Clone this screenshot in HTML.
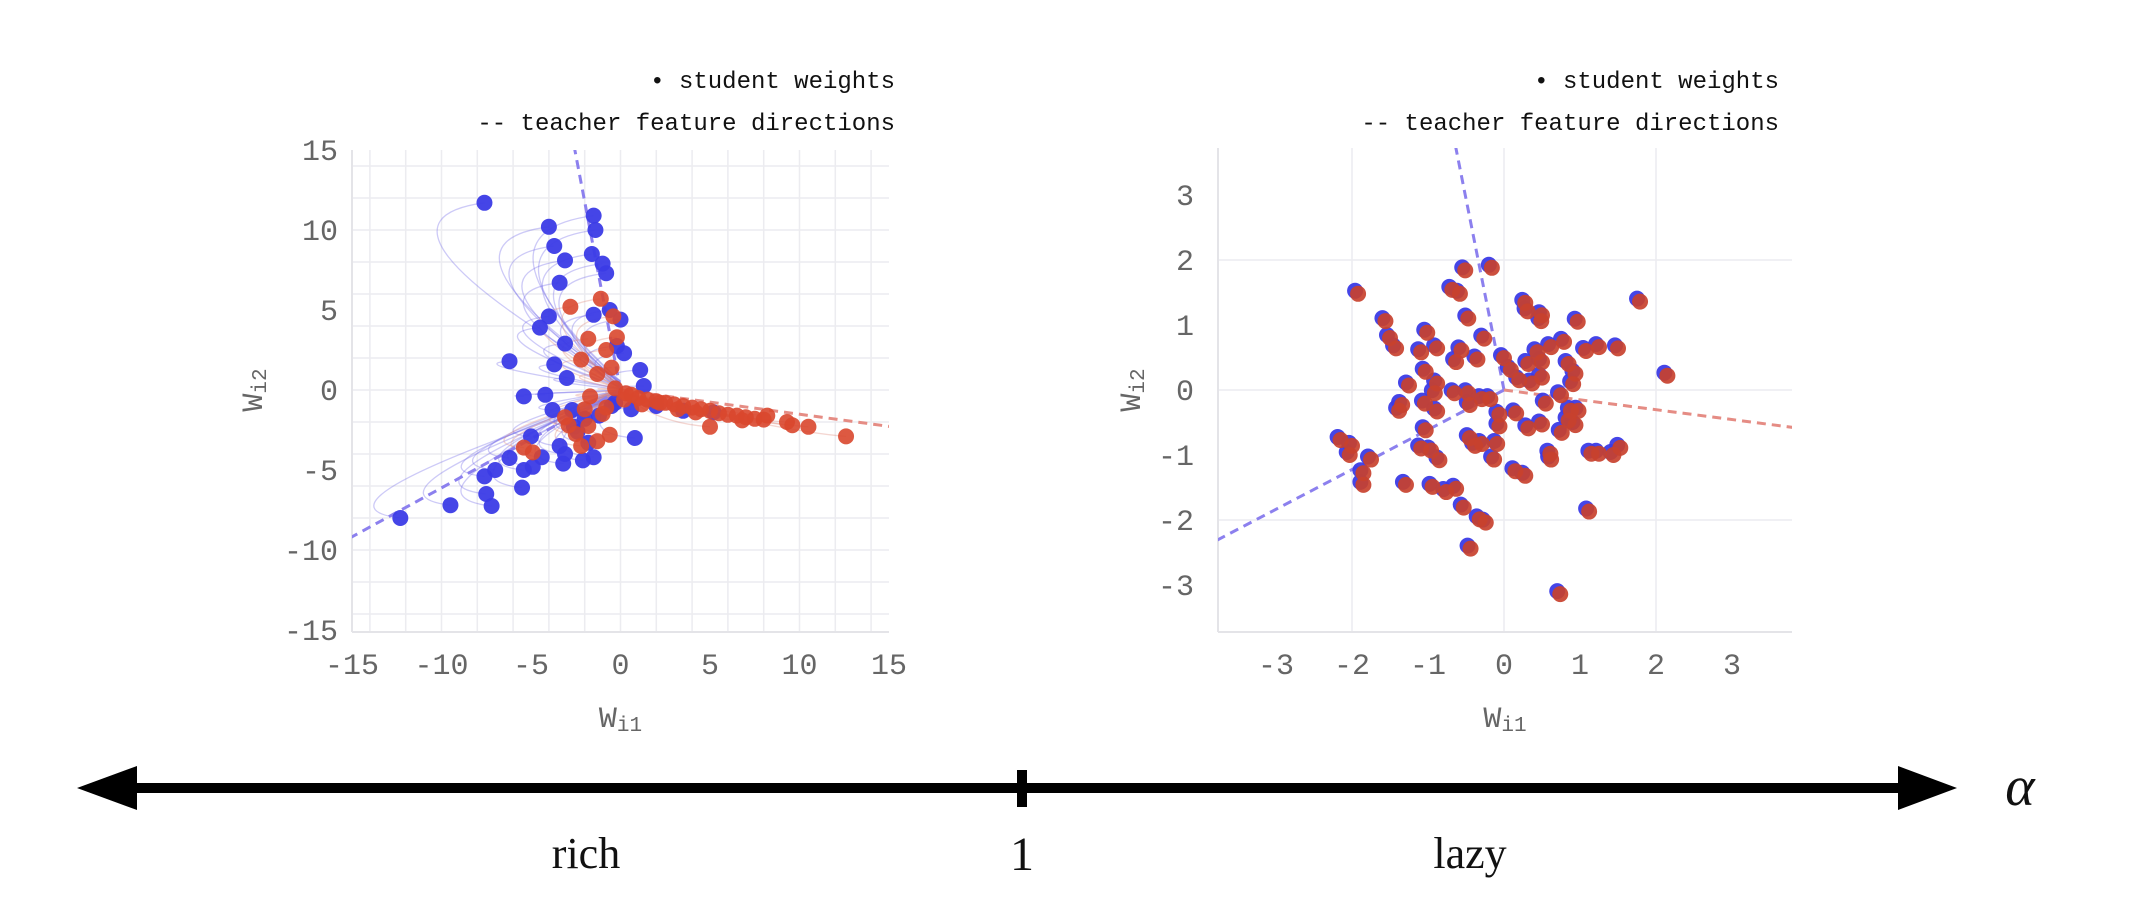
<!DOCTYPE html>
<html><head><meta charset="utf-8">
<style>
html,body{margin:0;padding:0;background:#fff;}
svg{display:block;}
.tick{font-family:"Liberation Mono","DejaVu Sans Mono",monospace;font-size:30px;fill:#666;}
.leg{font-family:"Liberation Mono","DejaVu Sans Mono",monospace;font-size:24px;fill:#111;}
.ser{font-family:"Liberation Serif",serif;fill:#111;}
</style></head>
<body>
<svg id="fig" width="2148" height="922" viewBox="0 0 2148 922" xmlns="http://www.w3.org/2000/svg">
  <g id="rich"></g>
  <g id="lazy"></g>
  <g>
    <rect x="130" y="783" width="1775" height="10" fill="#000"/>
    <polygon points="77,788 137,766 137,810" fill="#000"/>
    <polygon points="1957,788 1898,766 1898,810" fill="#000"/>
    <rect x="1017" y="770" width="10" height="37" fill="#000"/>
    <text class="ser" x="2020" y="805" font-size="56" font-style="italic" text-anchor="middle">α</text>
    <text class="ser" x="586" y="868" font-size="44" text-anchor="middle">rich</text>
    <text class="ser" x="1022" y="870" font-size="48" text-anchor="middle">1</text>
    <text class="ser" x="1470" y="868" font-size="44" text-anchor="middle">lazy</text>
  </g>
</svg>
<script>
// ---- rich regime data (final student weights) ----
const richBlueX = [-7.6,-4.0,-3.7,-3.1,-3.4,-1.5,-1.4,-1.6,-1.0,-0.8,-0.6,-1.5,0.0,-0.2,0.2,-4.0,-4.5,-6.2,-3.1,-3.7,-3.0,1.1,1.3,-5.4,-4.2,-3.8,-2.7,-2.0,-1.2,-0.5,-5.0,-6.2,-5.4,-4.9,-3.2,-3.1,-2.1,-1.5,-7.6,-7.0,-7.5,-5.5,-9.5,-7.2,-12.3,0.8,-2.4,-3.4,-1.8,-0.3,0.6,2.0,3.5,5.2,-2.6,-4.4];
const richBlueY = [11.7,10.2,9.0,8.1,6.7,10.9,10.0,8.5,7.9,7.3,5.0,4.7,4.4,2.75,2.3,4.6,3.9,1.8,2.9,1.6,0.75,1.25,0.25,-0.4,-0.3,-1.25,-1.25,-1.8,-1.6,-1.0,-2.9,-4.25,-5.0,-4.8,-4.6,-4.0,-4.4,-4.2,-5.4,-5.0,-6.5,-6.1,-7.2,-7.25,-8.0,-3.0,-2.6,-3.5,-3.3,-0.8,-1.2,-1.0,-1.3,-1.4,-2.3,-4.2];
const richRedX = [-1.1,-0.4,-0.2,-2.8,-1.8,-2.2,-1.3,-0.5,-0.8,-1.7,-3.1,-2.5,-1.8,-1.0,-0.8,-4.9,-5.4,-2.2,-1.3,0.3,0.6,1.0,1.5,2.0,2.5,3.0,3.5,4.0,4.5,5.0,5.5,6.0,6.5,7.0,7.5,8.0,8.2,5.0,9.3,9.6,10.5,12.6,-0.3,0.2,1.2,2.2,3.2,4.2,6.8,-2.9,-2.0,-0.6];
const richRedY = [5.7,4.6,3.3,5.2,3.2,1.9,1.0,1.4,2.5,-0.4,-1.7,-2.75,-2.25,-1.5,-1.1,-3.9,-3.6,-3.5,-3.2,-0.2,-0.3,-0.5,-0.6,-0.7,-0.8,-0.9,-1.0,-1.1,-1.2,-1.3,-1.45,-1.55,-1.6,-1.7,-1.8,-1.85,-1.6,-2.3,-2.0,-2.2,-2.3,-2.9,0.1,-0.6,-0.9,-0.8,-1.2,-1.4,-1.9,-2.2,-1.2,-2.8];
const richTicks = [-15,-10,-5,0,5,10,15];
// teacher directions (unit vectors)
const teacherBlueA = [-0.17,1];
const teacherBlueB = [-0.85,-0.52];
const teacherRed = [0.99,-0.15];

// ---- lazy regime data ----
const lazyX = [-1.92,-1.56,-1.5,-1.42,-1.09,-1.01,-0.88,-0.68,-0.58,-0.51,-0.16,-0.47,-0.26,-0.63,-0.56,-0.35,-1.03,-0.88,-0.91,-1.25,-1.34,-1.38,-1.04,-0.88,-0.65,-0.47,-0.45,-0.29,-0.18,-1.03,-1.09,-0.96,-0.85,-0.45,-0.38,-0.29,-0.09,-0.13,-0.06,-0.06,-2.15,-2.0,-2.03,-1.75,-1.85,-1.85,-1.29,-0.94,-0.76,-0.63,-0.53,-0.32,-0.24,-0.44,0.0,0.09,0.28,0.31,0.5,0.49,0.32,0.44,0.5,0.37,0.5,0.62,0.79,0.97,1.08,1.25,1.5,0.94,0.91,1.79,2.15,0.16,0.55,0.32,0.5,0.76,0.75,0.88,0.98,0.94,0.85,0.61,0.62,1.15,1.25,1.44,1.53,0.15,0.28,1.12,0.74,0.85,0.2];
const lazyY = [1.48,1.06,0.8,0.64,0.58,0.88,0.64,1.54,1.48,1.84,1.88,1.1,0.79,0.43,0.61,0.47,0.28,0.1,-0.05,0.07,-0.23,-0.32,-0.21,-0.33,-0.05,-0.05,-0.23,-0.14,-0.14,-0.62,-0.9,-0.93,-1.08,-0.74,-0.86,-0.83,-0.83,-1.07,-0.38,-0.56,-0.77,-0.86,-1.0,-1.07,-1.28,-1.46,-1.46,-1.49,-1.57,-1.52,-1.81,-1.99,-2.04,-2.44,0.49,0.31,1.34,1.21,1.15,1.06,0.4,0.58,0.43,0.1,0.19,0.66,0.74,1.05,0.6,0.66,0.64,0.25,0.09,1.36,0.22,-0.36,-0.21,-0.59,-0.53,-0.66,-0.08,-0.32,-0.32,-0.54,-0.47,-0.98,-1.07,-0.98,-0.98,-1.0,-0.89,-1.25,-1.32,-1.87,-3.14,0.4,0.15];
const lazyTicks = [-3,-2,-1,0,1,2,3];

const NS = "http://www.w3.org/2000/svg";
function mk(parent, tag, attrs){
  const e = document.createElementNS(NS, tag);
  for (const k in attrs) e.setAttribute(k, attrs[k]);
  parent.appendChild(e);
  return e;
}
const BLUE = "#3b3be6", RED = "#d9472e";

function drawChart(g, cfg){
  const sx = v => cfg.x0 + v * cfg.kx;
  const sy = v => cfg.y0 - v * cfg.ky;
  for (let v = -cfg.gmax; v <= cfg.gmax; v += cfg.gstep){
    const gx = mk(g, "line", {x1:sx(v), x2:sx(v), y1:cfg.top, y2:cfg.bottom, stroke:"#ececf0", "stroke-width":1.5});
    
    
    const gy = mk(g, "line", {x1:cfg.left, x2:cfg.right, y1:sy(v), y2:sy(v), stroke:"#ececf0", "stroke-width":1.5});
    
    
  }
  const ax = mk(g, "line", {x1:cfg.left, x2:cfg.right, y1:cfg.bottom, y2:cfg.bottom, stroke:"#e4e4e8", "stroke-width":2});
  
  
  const ay = mk(g, "line", {x1:cfg.left, x2:cfg.left, y1:cfg.top, y2:cfg.bottom, stroke:"#e4e4e8", "stroke-width":2});
  
  
  cfg.ticks.forEach(t => {
    const tx = mk(g, "text", {x:sx(t), y:cfg.bottom + 42, "text-anchor":"middle", class:"tick"});
    tx.textContent = String(t);
    
    
    if (sy(t) >= cfg.top - 15 && sy(t) <= cfg.bottom + 15){
      const ty = mk(g, "text", {x:cfg.left - cfg.ypad, y:sy(t) + 10, "text-anchor":"end", class:"tick"});
      ty.textContent = String(t);
      
      
    }
  });
  const xt = mk(g, "text", {x:(cfg.left+cfg.right)/2, y:cfg.bottom + 95, "text-anchor":"middle", class:"tick"});
  xt.innerHTML = 'W<tspan font-size="21" dy="4">i1</tspan>';
  
  
  const yt = mk(g, "text", {x:0, y:0, "text-anchor":"middle", class:"tick", transform:`translate(${cfg.ytx},${cfg.y0}) rotate(-90)`});
  yt.innerHTML = 'W<tspan font-size="21" dy="4">i2</tspan>';
  
  
  const l1 = mk(g, "text", {x:cfg.legX, y:88, "text-anchor":"end", class:"leg"});
  l1.textContent = "• student weights";
  
  
  const l2 = mk(g, "text", {x:cfg.legX, y:130, "text-anchor":"end", class:"leg"});
  l2.textContent = "-- teacher feature directions";
  
  
  const cid = "clip" + cfg.id;
  const defs = mk(g, "defs", {});
  const cp = mk(defs, "clipPath", {id:cid});
  mk(cp, "rect", {x:cfg.left, y:cfg.top, width:cfg.right-cfg.left, height:cfg.bottom-cfg.top});
  const plot = mk(g, "g", {"clip-path":`url(#${cid})`});
  
  
  return {sx, sy, plot};
}

function teacherLines(plot, sx, sy, L){
  [[teacherBlueA,"#8c80ee"],[teacherBlueB,"#8c80ee"],[teacherRed,"#e58c84"]].forEach(([d,c])=>{
    const ln = mk(plot, "line", {x1:sx(0), y1:sy(0), x2:sx(d[0]*L), y2:sy(d[1]*L), stroke:c, "stroke-width":3, "stroke-dasharray":"9 6"});
    
    
  });
}

(function(){
  const g = document.getElementById("rich");
  const c = drawChart(g, {id:"r", x0:620.5, y0:390, kx:17.9, ky:16, left:352, right:889, top:150, bottom:632,
    gmax:14, gstep:2, ticks:richTicks, ypad:14, ytx:262, legX:895});
  const {sx, sy, plot} = c;
  function traj(x, y, col){
    const p = mk(plot, "path", {d:`M${sx(0)},${sy(y*0.05)} Q${sx(x-Math.abs(y)*0.5-2)},${sy(y*0.9)} ${sx(x)},${sy(y)}`,
      fill:"none", stroke:col, "stroke-width":1.3, opacity:0.35});
    
    
  }
  richBlueX.forEach((x,i)=>traj(x, richBlueY[i], "#6f66e8"));
  richRedX.forEach((x,i)=>traj(x, richRedY[i], "#e08a7a"));
  teacherLines(plot, sx, sy, 25);
  richBlueX.forEach((x,i)=>{
    const d = mk(plot, "circle", {cx:sx(x), cy:sy(richBlueY[i]), r:8, fill:BLUE, opacity:0.95});
    
    
  });
  richRedX.forEach((x,i)=>{
    const d = mk(plot, "circle", {cx:sx(x), cy:sy(richRedY[i]), r:8, fill:RED, opacity:0.9});
    
    
  });
})();

(function(){
  const g = document.getElementById("lazy");
  const c = drawChart(g, {id:"l", x0:1504, y0:390, kx:76, ky:65, left:1218, right:1792, top:148, bottom:632,
    gmax:2, gstep:2, ticks:lazyTicks, ypad:24, ytx:1140, legX:1779});
  const {sx, sy, plot} = c;
  teacherLines(plot, sx, sy, 6);
  lazyX.forEach((x,i)=>{
    const d = mk(plot, "circle", {cx:sx(x)-3, cy:sy(lazyY[i])-3, r:8, fill:BLUE, opacity:0.95});
    
    
  });
  lazyX.forEach((x,i)=>{
    const d = mk(plot, "circle", {cx:sx(x), cy:sy(lazyY[i]), r:8, fill:"#c8412e", opacity:0.92});
    
    
  });
})();
</script>
</body></html>
